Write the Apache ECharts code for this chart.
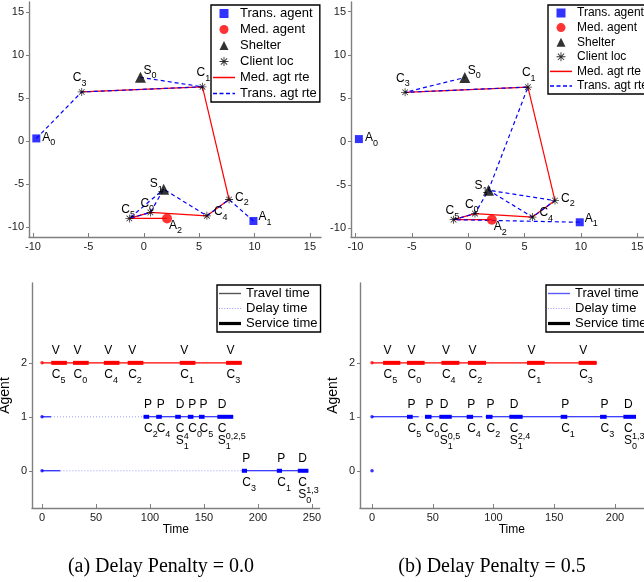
<!DOCTYPE html>
<html>
<head>
<meta charset="utf-8">
<script src="https://cdn.jsdelivr.net/npm/echarts@6/dist/echarts.min.js"></script>
<style>
  html, body { margin: 0; padding: 0; background: #fff; }
  #chart { width: 644px; height: 582px; }
</style>
</head>
<body>
<div id="chart"></div>
<script>
// ---- map data (same nodes in both panels) ----
const nodeNames = ['A0', 'A1', 'A2', 'S0', 'S1', 'C0', 'C1', 'C2', 'C3', 'C4', 'C5'];
const nodeX = [-9.7, 9.9, 2.1, -0.3, 1.8, 0.6, 5.3, 7.7, -5.6, 5.7, -1.3];
const nodeY = [0.3, -9.3, -9.0, 7.4, -5.6, -8.3, 6.3, -6.8, 5.7, -8.7, -9.0];
const transAgentNames = ['A0', 'A1'];
const medAgentNames = ['A2'];
const shelterNames = ['S0', 'S1'];
const clientNames = ['C0', 'C1', 'C2', 'C3', 'C4', 'C5'];

// routes
const medRoute = ['A2', 'C5', 'C0', 'C4', 'C2', 'C1', 'C3'];
const transRoutesA = [['A0', 'C3', 'C1', 'S0'], ['A1', 'C2', 'C4', 'S1', 'C0', 'C5', 'S1']];
const transRoutesB = [['A1', 'C5', 'C0', 'S1', 'C4', 'C2', 'S1', 'C1', 'C3', 'S0']];

// ---- schedules: [start, end, kind, sub, sup] ----
const medTravelA = [[0, 184.9]];
const medStopsA = [[8.5, 23.0, 'V', '5'], [28.7, 43.2, 'V', '0'], [57.2, 71.7, 'V', '4'],
  [79.3, 93.8, 'V', '2'], [127.5, 142.0, 'V', '1'], [170.4, 184.9, 'V', '3']];
const trans1TravelA = [[0, 8.3], [94.0, 177.0]];
const trans1DelayA = [[8.3, 94.0]];
const trans1StopsA = [[94.0, 99.2, 'P', '2'], [105.7, 110.9, 'P', '4'], [123.3, 128.5, 'D', '1', '4'],
  [135.0, 140.2, 'P', '0'], [145.3, 150.5, 'P', '5'], [162.3, 177.0, 'D', '1', '0,2,5']];
const trans0TravelA = [[0, 17.0], [185.0, 246.6]];
const trans0DelayA = [[17.0, 185.0]];
const trans0StopsA = [[185.0, 189.8, 'P', '3'], [217.4, 222.2, 'P', '1'], [236.8, 246.6, 'D', '0', '1,3']];

const medTravelB = [[0, 184.9]];
const medStopsB = [[9.1, 23.3, 'V', '5'], [28.8, 43.3, 'V', '0'], [57.1, 71.9, 'V', '4'],
  [79.0, 93.8, 'V', '2'], [127.6, 142.1, 'V', '1'], [170.1, 184.9, 'V', '3']];
const trans1TravelB = [[0, 38.4], [43.6, 90.5], [93.8, 217.3]];
const trans1DelayB = [[38.4, 43.6], [90.5, 93.8]];
const trans1StopsB = [[28.8, 33.5, 'P', '5'], [43.6, 49.0, 'P', '0'], [55.4, 65.6, 'D', '1', '0,5'],
  [77.9, 83.2, 'P', '4'], [93.8, 99.2, 'P', '2'], [113.0, 124.0, 'D', '1', '2,4'],
  [155.3, 160.7, 'P', '1'], [187.7, 193.1, 'P', '3'], [206.9, 217.3, 'D', '0', '1,3']];

const mapTicks = [-10, -5, 0, 5, 10, 15];
const timeTicks = [0, 50, 100, 150, 200, 250];
const agentTicks = [0, 1, 2];

// label placement around each node, pixels
const labelOffset = {
  A0: [6, -1], A1: [5, -4], A2: [2, 7], S0: [3, -7], S1: [-14, -5],
  C0: [-10, -9], C1: [-6, -14], C2: [6, -2], C3: [-9, -14], C4: [7, -4], C5: [-8, -9]
};

const FONT = '"Liberation Sans", Arial, sans-serif';
const SERIF = '"Liberation Serif", "Times New Roman", serif';
const RED = '#ff0000';
const BLUE = '#0000ff';
const AXIS = '#7f7f7f';

const measureCtx = document.createElement('canvas').getContext('2d');
function textW(str, size) {
  measureCtx.font = size + 'px ' + FONT;
  return measureCtx.measureText(str).width;
}
function txt(x, y, str, size) {
  return { type: 'text', x: x, y: y, silent: true,
    style: { text: str, fontSize: size, fontFamily: FONT, fill: '#000', align: 'left', verticalAlign: 'middle' } };
}
// letter with subscript / superscript
function scripted(x, y, main, sub, sup, size) {
  const out = [txt(x, y, main, size)];
  const sx = x + textW(main, size);
  const small = Math.round(size * 0.75);
  if (sub) out.push(txt(sx, y + size * 0.45, sub, small));
  if (sup) out.push(txt(sx, y - size * 0.38, sup, small));
  return out;
}
function pos(name) {
  const i = nodeNames.indexOf(name);
  return [nodeX[i], nodeY[i]];
}

const asterisk = 'path://M0,4.5H10V5.5H0Z M4.5,0H5.5V10H4.5Z M1.85,1.15L8.85,8.15L8.15,8.85L1.15,1.85Z M1.15,8.15L8.15,1.15L8.85,1.85L1.85,8.85Z';

// legend icons: thin bars so that they keep their aspect
function barIcon(h, dash, gap) {
  const w = 22;
  if (!dash) return 'path://M0,0H' + w + 'V' + h + 'H0Z';
  let p = 'path://';
  for (let x = 0; x < w; x += dash + gap) {
    const e = Math.min(x + dash, w);
    p += 'M' + x + ',0H' + e + 'V' + h + 'H' + x + 'Z ';
  }
  return p;
}
const squareIcon = 'path://M0,0H10V10H0Z';
const triangleIcon = 'path://M5,0L10,10H0Z';

function mapSeries(g, transRoutes) {
  const ax = { xAxisIndex: g, yAxisIndex: g };
  const s = [];
  s.push(Object.assign({ type: 'line', name: 'Med. agt rte', data: medRoute.map(pos), symbol: 'none',
    lineStyle: { color: RED, width: 1.2 }, itemStyle: { color: RED }, z: 2 }, ax));
  transRoutes.forEach(function (r) {
    s.push(Object.assign({ type: 'line', name: 'Trans. agt rte', data: r.map(pos), symbol: 'none',
      lineStyle: { color: BLUE, width: 1.2, type: [4, 3] }, itemStyle: { color: BLUE }, z: 3 }, ax));
  });
  s.push(Object.assign({ type: 'scatter', name: 'Trans. agent', data: transAgentNames.map(pos),
    symbol: 'rect', symbolSize: 8, itemStyle: { color: BLUE }, z: 4 }, ax));
  s.push(Object.assign({ type: 'scatter', name: 'Med. agent', data: medAgentNames.map(pos),
    symbol: 'circle', symbolSize: 10, itemStyle: { color: RED }, z: 4 }, ax));
  s.push(Object.assign({ type: 'scatter', name: 'Shelter', data: shelterNames.map(pos),
    symbol: 'triangle', symbolSize: 11, itemStyle: { color: '#000' }, z: 4 }, ax));
  s.push(Object.assign({ type: 'scatter', name: 'Client loc', data: clientNames.map(pos),
    symbol: asterisk, symbolSize: 8, itemStyle: { color: '#000' }, z: 5 }, ax));
  s.push(Object.assign({ type: 'custom', coordinateSystem: 'cartesian2d', data: nodeNames.map(pos),
    clip: false, silent: true, z: 6,
    renderItem: function (params, api) {
      const n = nodeNames[params.dataIndex];
      const p = api.coord(pos(n));
      const off = labelOffset[n];
      return { type: 'group', children: scripted(p[0] + off[0], p[1] + off[1], n[0], n[1], '', 12) };
    } }, ax));
  return s;
}

function segSeries(g, spans, y, color, width, dash, z) {
  return { type: 'custom', coordinateSystem: 'cartesian2d', xAxisIndex: g, yAxisIndex: g,
    data: spans.map(function (d) { return [d[0], d[1], y]; }), encode: { x: [0, 1], y: 2 },
    clip: false, silent: true, z: z,
    renderItem: function (params, api) {
      const a = api.coord([api.value(0), api.value(2)]);
      const b = api.coord([api.value(1), api.value(2)]);
      return { type: 'line', shape: { x1: a[0], y1: a[1], x2: b[0], y2: b[1] },
        style: { stroke: color, lineWidth: width, lineDash: dash || null } };
    } };
}

function stopLabelSeries(g, stops, y) {
  return { type: 'custom', coordinateSystem: 'cartesian2d', xAxisIndex: g, yAxisIndex: g,
    data: stops.map(function (d) { return [d[0], y]; }), clip: false, silent: true, z: 6,
    renderItem: function (params, api) {
      const st = stops[params.dataIndex];
      const p = api.coord([api.value(0), api.value(1)]);
      const x = p[0] + 0.5;
      let kids = [txt(x, p[1] - 12, st[2], 12)];
      if (st[2] === 'D') {
        kids.push(txt(x, p[1] + 12, 'C', 12));
        kids = kids.concat(scripted(x, p[1] + 24, 'S', st[3], st[4], 12));
      } else {
        kids = kids.concat(scripted(x, p[1] + 12, 'C', st[3], '', 12));
      }
      return { type: 'group', children: kids };
    } };
}

function agentRow(g, y, color, travel, delay, stops) {
  const s = [];
  s.push(segSeries(g, travel, y, color, 1.1, null, 2));
  if (delay.length) s.push(segSeries(g, delay, y, '#9a9aff', 1, [1, 2], 2));
  if (stops.length) {
    s.push(segSeries(g, stops, y, color, 4, null, 3));
    s.push(stopLabelSeries(g, stops, y));
  }
  return s;
}

function startDots(g, rows) {
  return { type: 'scatter', xAxisIndex: g, yAxisIndex: g, symbol: 'circle', symbolSize: 3.5, z: 4,
    data: rows.map(function (r) { return { value: [0, r[0]], itemStyle: { color: r[1] } }; }) };
}

function legendDummy(name, g, color) {
  return { type: 'line', name: name, xAxisIndex: g, yAxisIndex: g, data: [], symbol: 'none',
    lineStyle: { color: color }, itemStyle: { color: color } };
}

function xAxisOf(g, min, max, ticks, name) {
  return { type: 'value', gridIndex: g, min: min, max: max,
    name: name || '', nameLocation: 'middle', nameGap: 16,
    nameTextStyle: { fontFamily: FONT, fontSize: 12, color: '#000' },
    axisLine: { show: true, onZero: false, lineStyle: { color: AXIS, width: 1.4 } },
    axisTick: { show: true, inside: true, length: 4, customValues: ticks, lineStyle: { color: AXIS } },
    axisLabel: { customValues: ticks, color: '#222', fontSize: 11, fontFamily: FONT, margin: 4 },
    splitLine: { show: false } };
}
function yAxisOf(g, min, max, ticks, name) {
  return { type: 'value', gridIndex: g, min: min, max: max,
    name: name || '', nameLocation: 'middle', nameGap: 20,
    nameTextStyle: { fontFamily: FONT, fontSize: 14, color: '#000' },
    axisLine: { show: true, onZero: false, lineStyle: { color: AXIS, width: 1.4 } },
    axisTick: { show: true, inside: false, length: 3, customValues: ticks, lineStyle: { color: AXIS } },
    axisLabel: { customValues: ticks, color: '#222', fontSize: 11, fontFamily: FONT, margin: 5 },
    splitLine: { show: false } };
}

const series = []
  .concat(mapSeries(0, transRoutesA))
  .concat(mapSeries(1, transRoutesB))
  .concat(agentRow(2, 2, RED, medTravelA, [], medStopsA))
  .concat(agentRow(2, 1, BLUE, trans1TravelA, trans1DelayA, trans1StopsA))
  .concat(agentRow(2, 0, BLUE, trans0TravelA, trans0DelayA, trans0StopsA))
  .concat([startDots(2, [[2, RED], [1, BLUE], [0, BLUE]])])
  .concat(agentRow(3, 2, RED, medTravelB, [], medStopsB))
  .concat(agentRow(3, 1, BLUE, trans1TravelB, trans1DelayB, trans1StopsB))
  .concat([startDots(3, [[2, RED], [1, BLUE], [0, BLUE]])])
  .concat([
    legendDummy('Travel time#a', 2, '#555555'),
    legendDummy('Delay time#a', 2, '#9a9aff'),
    legendDummy('Service time#a', 2, '#000'),
    legendDummy('Travel time#b', 3, '#5a5aff'),
    legendDummy('Delay time#b', 3, '#9a9aff'),
    legendDummy('Service time#b', 3, '#000')
  ]);

const mapLegendItems = [
  { name: 'Trans. agent', icon: squareIcon },
  { name: 'Med. agent', icon: 'circle' },
  { name: 'Shelter', icon: triangleIcon },
  { name: 'Client loc', icon: asterisk },
  { name: 'Med. agt rte', icon: barIcon(1.5) },
  { name: 'Trans. agt rte', icon: barIcon(1.5, 4, 2.5) }
];
function timeLegendItems(tag) {
  return [
    { name: 'Travel time#' + tag, icon: barIcon(1.4) },
    { name: 'Delay time#' + tag, icon: barIcon(1, 1, 1.6) },
    { name: 'Service time#' + tag, icon: barIcon(3.2) }
  ];
}
function legendOf(items, left, top, size, gap) {
  return { data: items, left: left, top: top, orient: 'vertical', selectedMode: false,
    itemWidth: 22, itemHeight: 9, itemGap: gap, padding: [2, 3, 2, 2], symbolKeepAspect: true,
    borderColor: '#000', borderWidth: 1.4, backgroundColor: '#fff',
    itemStyle: { borderWidth: 0 },
    formatter: function (n) { return n.split('#')[0]; },
    textStyle: { fontSize: size, fontFamily: FONT, color: '#000' } };
}

const chart = echarts.init(document.getElementById('chart'), null, { renderer: 'canvas' });
chart.setOption({
  animation: false,
  grid: [
    { left: 29, top: 2, width: 292, height: 235, outerBoundsMode: 'none' },
    { left: 351, top: 2, width: 297.5, height: 235, outerBoundsMode: 'none' },
    { left: 32, top: 283, width: 287.6, height: 225, outerBoundsMode: 'none' },
    { left: 360, top: 283, width: 303.6, height: 225, outerBoundsMode: 'none' }
  ],
  xAxis: [
    xAxisOf(0, -10.36, 16, mapTicks),
    xAxisOf(1, -10.4, 16, mapTicks),
    xAxisOf(2, -9.3, 257, timeTicks, 'Time'),
    xAxisOf(3, -9.9, 240, timeTicks, 'Time')
  ],
  yAxis: [
    yAxisOf(0, -11.16, 16.16, mapTicks),
    yAxisOf(1, -11.0, 16.12, mapTicks),
    yAxisOf(2, -0.69, 3.48, agentTicks, 'Agent'),
    yAxisOf(3, -0.69, 3.48, agentTicks, 'Agent')
  ],
  legend: [
    legendOf(mapLegendItems, 211, 5, 13, 3),
    legendOf(mapLegendItems, 548, 5, 12, 2.6),
    legendOf(timeLegendItems('a'), 217, 285, 13, 2),
    legendOf(timeLegendItems('b'), 546, 285, 13, 2)
  ],
  graphic: [
    { type: 'text', x: 161, y: 567, style: { text: '(a) Delay Penalty = 0.0', fontSize: 20,
      fontFamily: SERIF, fill: '#000', align: 'center', verticalAlign: 'middle' } },
    { type: 'text', x: 492, y: 567, style: { text: '(b) Delay Penalty = 0.5', fontSize: 20,
      fontFamily: SERIF, fill: '#000', align: 'center', verticalAlign: 'middle' } }
  ],
  series: series
});
</script>
</body>
</html>
